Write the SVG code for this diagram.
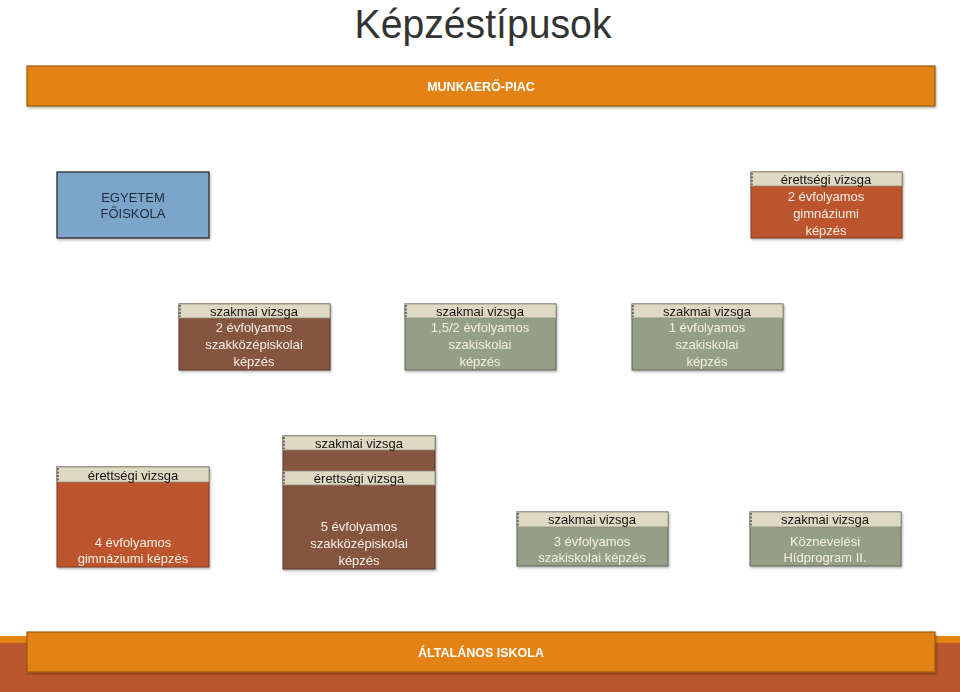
<svg xmlns="http://www.w3.org/2000/svg" width="960" height="692" viewBox="0 0 960 692">
<defs>
<filter id="sh" x="-5%" y="-5%" width="110%" height="115%"><feDropShadow dx="1" dy="1.5" stdDeviation="0.8" flood-color="#000" flood-opacity="0.3"/></filter>
</defs>
<style>
text{font-family:"Liberation Sans","DejaVu Sans",sans-serif;text-anchor:middle}
.hd{fill:#DDD9C3;stroke:#8C8C7C;stroke-width:0.8}
.ht{font-size:13px;fill:#141414}
.bt{font-size:13px;fill:#F4EFE4}
.band{fill:#E38312;stroke:#9A5A12;stroke-width:1.2}
.bandt{font-size:12.5px;font-weight:bold;fill:#FFFFFF}
.gym{fill:#BC552F;stroke:#7A3A20;stroke-width:1}
.szk{fill:#865440;stroke:#5A3526;stroke-width:1}
.sz{fill:#959E86;stroke:#5E6552;stroke-width:1}
.tick{stroke:#333;stroke-width:1.2;stroke-dasharray:2,1.5}
</style>
<rect x="0" y="0" width="960" height="692" fill="#FFFFFF"/>
<rect x="0" y="636" width="960" height="8" fill="#E38312"/>
<rect x="0" y="643" width="960" height="49" fill="#BA572E"/>
<text x="483" y="38" style="font-size:41px;fill:#333333" textLength="257" lengthAdjust="spacingAndGlyphs">Képzéstípusok</text>

<g id="munkaero-piac" filter="url(#sh)">
<rect class="band" x="27" y="66" width="908" height="40"/>
<text class="bandt" x="481" y="91">MUNKAERŐ-PIAC</text>
</g>

<g id="egyetem" filter="url(#sh)">
<rect x="57" y="172" width="152" height="66" fill="#7BA5CA" stroke="#222" stroke-width="1.2"/>
<text class="ht" x="133" y="202" style="fill:#1F2A3A">EGYETEM</text>
<text class="ht" x="133" y="218" style="fill:#1F2A3A">FŐISKOLA</text>
</g>

<g id="gimn2" filter="url(#sh)">
<rect class="gym" x="751" y="172" width="151" height="66"/>
<rect class="hd" x="751" y="172" width="151" height="14"/>
<line class="tick" x1="752" y1="173" x2="752" y2="185"/>
<text class="ht" x="826" y="184">érettségi vizsga</text>
<text class="bt" x="826" y="201">2 évfolyamos</text>
<text class="bt" x="826" y="218">gimnáziumi</text>
<text class="bt" x="826" y="235">képzés</text>
</g>

<g id="szkoz2" filter="url(#sh)">
<rect class="szk" x="179" y="304" width="151" height="66"/>
<rect class="hd" x="179" y="304" width="151" height="14"/>
<line class="tick" x1="180" y1="305" x2="180" y2="317"/>
<text class="ht" x="254" y="316">szakmai vizsga</text>
<text class="bt" x="254" y="332">2 évfolyamos</text>
<text class="bt" x="254" y="349">szakközépiskolai</text>
<text class="bt" x="254" y="366">képzés</text>
</g>

<g id="szakisk15" filter="url(#sh)">
<rect class="sz" x="405" y="304" width="151" height="66"/>
<rect class="hd" x="405" y="304" width="151" height="14"/>
<line class="tick" x1="406" y1="305" x2="406" y2="317"/>
<text class="ht" x="480" y="316">szakmai vizsga</text>
<text class="bt" x="480" y="332">1,5/2 évfolyamos</text>
<text class="bt" x="480" y="349">szakiskolai</text>
<text class="bt" x="480" y="366">képzés</text>
</g>

<g id="szakisk1" filter="url(#sh)">
<rect class="sz" x="632" y="304" width="151" height="66"/>
<rect class="hd" x="632" y="304" width="151" height="14"/>
<line class="tick" x1="633" y1="305" x2="633" y2="317"/>
<text class="ht" x="707" y="316">szakmai vizsga</text>
<text class="bt" x="707" y="332">1 évfolyamos</text>
<text class="bt" x="707" y="349">szakiskolai</text>
<text class="bt" x="707" y="366">képzés</text>
</g>

<g id="gimn4" filter="url(#sh)">
<rect class="gym" x="57" y="467" width="152" height="100"/>
<rect class="hd" x="57" y="467" width="152" height="15"/>
<line class="tick" x1="58" y1="468" x2="58" y2="481"/>
<text class="ht" x="133" y="480">érettségi vizsga</text>
<text class="bt" x="133" y="547">4 évfolyamos</text>
<text class="bt" x="133" y="563">gimnáziumi képzés</text>
</g>

<g id="szkoz5" filter="url(#sh)">
<rect class="szk" x="283" y="436" width="152" height="133"/>
<rect class="hd" x="283" y="436" width="152" height="14"/>
<rect class="hd" x="283" y="471" width="152" height="14"/>
<line class="tick" x1="284" y1="437" x2="284" y2="449"/>
<line class="tick" x1="284" y1="472" x2="284" y2="484"/>
<text class="ht" x="359" y="448">szakmai vizsga</text>
<text class="ht" x="359" y="483">érettségi vizsga</text>
<text class="bt" x="359" y="531">5 évfolyamos</text>
<text class="bt" x="359" y="548">szakközépiskolai</text>
<text class="bt" x="359" y="565">képzés</text>
</g>

<g id="szakisk3" filter="url(#sh)">
<rect class="sz" x="517" y="512" width="151" height="54"/>
<rect class="hd" x="517" y="512" width="151" height="15"/>
<line class="tick" x1="518" y1="513" x2="518" y2="526"/>
<text class="ht" x="592" y="524">szakmai vizsga</text>
<text class="bt" x="592" y="546">3 évfolyamos</text>
<text class="bt" x="592" y="562">szakiskolai képzés</text>
</g>

<g id="hidprogram" filter="url(#sh)">
<rect class="sz" x="750" y="512" width="151" height="54"/>
<rect class="hd" x="750" y="512" width="151" height="15"/>
<line class="tick" x1="751" y1="513" x2="751" y2="526"/>
<text class="ht" x="825" y="524">szakmai vizsga</text>
<text class="bt" x="825" y="546">Köznevelési</text>
<text class="bt" x="825" y="562">Hídprogram II.</text>
</g>

<g id="altalanos-iskola" filter="url(#sh)">
<rect class="band" x="27" y="632" width="908" height="40"/>
<text class="bandt" x="481" y="657">ÁLTALÁNOS ISKOLA</text>
</g>

<g id="connectors"></g>
</svg>
